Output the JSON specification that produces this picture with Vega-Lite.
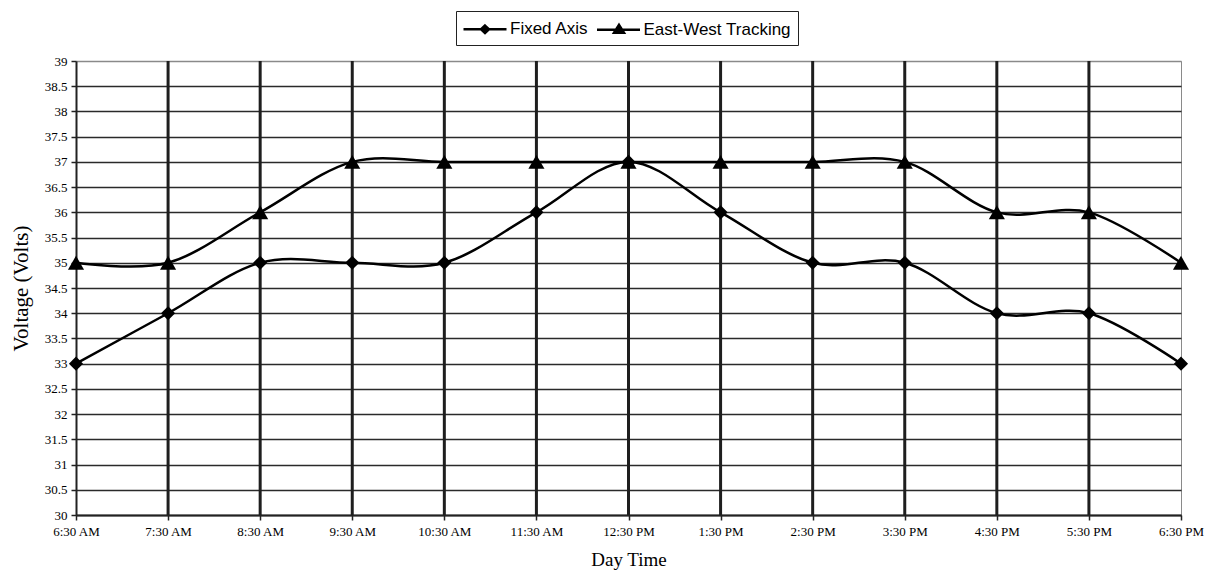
{
  "$schema": "https://vega.github.io/schema/vega-lite/v6.json",
  "autosize": {"type": "none"},
  "padding": {"left": 76, "top": 61, "right": 26, "bottom": 58},
  "width": 1105,
  "height": 454,
  "background": "white",
  "config": {
    "view": {"stroke": "#8a8a8a", "strokeWidth": 1},
    "axis": {
      "labelFont": "Liberation Serif",
      "labelFontSize": 13,
      "labelColor": "black",
      "titleFont": "Liberation Serif",
      "titleFontWeight": "normal",
      "titleColor": "black",
      "domainColor": "#222222",
      "domainWidth": 2,
      "tickColor": "#222222",
      "tickWidth": 1.5,
      "tickSize": 5
    }
  },
  "data": {
    "values": [
      {"time": "6:30 AM", "series": "Fixed Axis", "volts": 33},
      {"time": "7:30 AM", "series": "Fixed Axis", "volts": 34},
      {"time": "8:30 AM", "series": "Fixed Axis", "volts": 35},
      {"time": "9:30 AM", "series": "Fixed Axis", "volts": 35},
      {"time": "10:30 AM", "series": "Fixed Axis", "volts": 35},
      {"time": "11:30 AM", "series": "Fixed Axis", "volts": 36},
      {"time": "12:30 PM", "series": "Fixed Axis", "volts": 37},
      {"time": "1:30 PM", "series": "Fixed Axis", "volts": 36},
      {"time": "2:30 PM", "series": "Fixed Axis", "volts": 35},
      {"time": "3:30 PM", "series": "Fixed Axis", "volts": 35},
      {"time": "4:30 PM", "series": "Fixed Axis", "volts": 34},
      {"time": "5:30 PM", "series": "Fixed Axis", "volts": 34},
      {"time": "6:30 PM", "series": "Fixed Axis", "volts": 33},
      {"time": "6:30 AM", "series": "East-West Tracking", "volts": 35},
      {"time": "7:30 AM", "series": "East-West Tracking", "volts": 35},
      {"time": "8:30 AM", "series": "East-West Tracking", "volts": 36},
      {"time": "9:30 AM", "series": "East-West Tracking", "volts": 37},
      {"time": "10:30 AM", "series": "East-West Tracking", "volts": 37},
      {"time": "11:30 AM", "series": "East-West Tracking", "volts": 37},
      {"time": "12:30 PM", "series": "East-West Tracking", "volts": 37},
      {"time": "1:30 PM", "series": "East-West Tracking", "volts": 37},
      {"time": "2:30 PM", "series": "East-West Tracking", "volts": 37},
      {"time": "3:30 PM", "series": "East-West Tracking", "volts": 37},
      {"time": "4:30 PM", "series": "East-West Tracking", "volts": 36},
      {"time": "5:30 PM", "series": "East-West Tracking", "volts": 36},
      {"time": "6:30 PM", "series": "East-West Tracking", "volts": 35}
    ]
  },
  "encoding": {
    "x": {
      "field": "time",
      "type": "ordinal",
      "sort": ["6:30 AM", "7:30 AM", "8:30 AM", "9:30 AM", "10:30 AM", "11:30 AM", "12:30 PM", "1:30 PM", "2:30 PM", "3:30 PM", "4:30 PM", "5:30 PM", "6:30 PM"],
      "scale": {"type": "point", "padding": 0},
      "axis": {
        "title": "Day Time",
        "titleFontSize": 19,
        "titlePadding": 12,
        "labelAngle": 0,
        "labelPadding": 5,
        "labelOverlap": false,
        "labelBound": false,
        "grid": false
      }
    },
    "y": {
      "field": "volts",
      "type": "quantitative",
      "scale": {"domain": [30, 39], "nice": false, "zero": false},
      "axis": {
        "title": "Voltage (Volts)",
        "titleFontSize": 21,
        "titlePadding": 13,
        "values": [30, 30.5, 31, 31.5, 32, 32.5, 33, 33.5, 34, 34.5, 35, 35.5, 36, 36.5, 37, 37.5, 38, 38.5, 39],
        "labelExpr": "'' + datum.value",
        "labelPadding": 4,
        "grid": true,
        "gridColor": {"condition": {"test": "datum.value == 39", "value": "#8a8a8a"}, "value": "#2a2a2a"},
        "gridWidth": 1.6
      }
    }
  },
  "layer": [
    {
      "transform": [
        {"filter": "datum.series == 'Fixed Axis' && datum.time != '6:30 AM' && datum.time != '6:30 PM'"}
      ],
      "mark": {"type": "rule", "color": "#1e1e1e", "strokeWidth": 3},
      "encoding": {"y": null}
    },
    {
      "mark": {"type": "line", "interpolate": "cardinal", "strokeWidth": 2.5},
      "encoding": {
        "stroke": {
          "field": "series",
          "type": "nominal",
          "scale": {"domain": ["Fixed Axis", "East-West Tracking"], "range": ["#000000", "#000000"]},
          "legend": {
            "title": null,
            "orient": "none",
            "legendX": 380,
            "legendY": -50,
            "direction": "horizontal",
            "columns": 2,
            "symbolSize": 400,
            "symbolStrokeWidth": 2.5,
            "labelFont": "Liberation Sans",
            "labelFontSize": 17,
            "labelColor": "black",
            "labelOffset": 24.5,
            "columnPadding": 3.5,
            "padding": 6.5,
            "strokeColor": "#222222",
            "encode": {
              "symbols": {
                "update": {
                  "shape": {"signal": "datum.value === 'Fixed Axis' ? 'M-1.05,0H3.25M1.1,-0.38L1.5,0L1.1,0.38L0.7,0Z' : 'M-1.05,0H3.25M1.15,-0.48L1.65,0.32L0.65,0.32Z'"},
                  "fill": {"value": "black"},
                  "stroke": {"value": "black"},
                  "strokeWidth": {"value": 2.5}
                }
              }
            }
          }
        }
      }
    },
    {
      "transform": [{"filter": "datum.series == 'Fixed Axis'"}],
      "mark": {"type": "point", "shape": "diamond", "size": 200, "filled": true, "opacity": 1, "color": "black"}
    },
    {
      "transform": [{"filter": "datum.series == 'East-West Tracking'"}],
      "mark": {"type": "point", "shape": "triangle-up", "size": 260, "filled": true, "opacity": 1, "color": "black"}
    }
  ]
}
